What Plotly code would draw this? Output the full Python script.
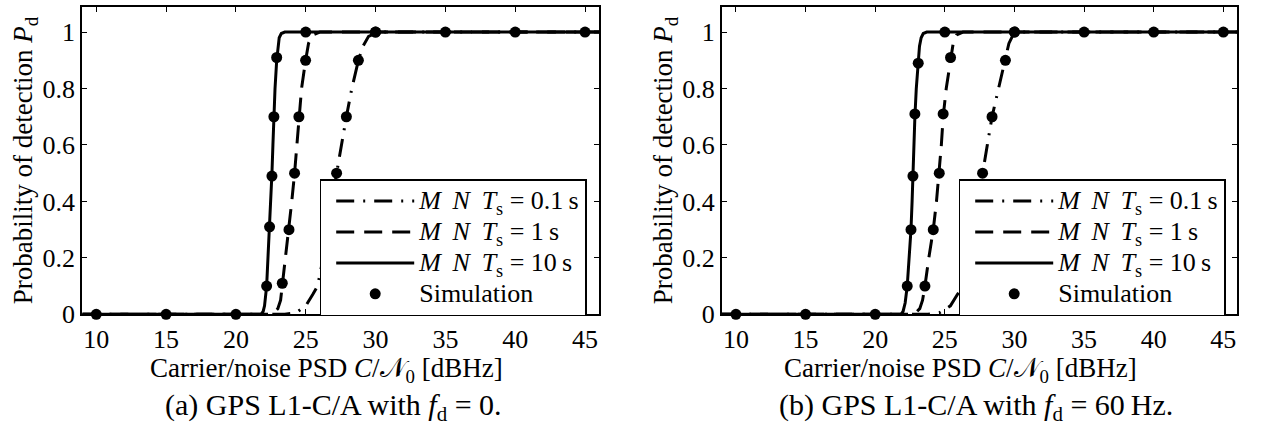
import plotly.graph_objects as go

# ---------------- data ----------------
# C/N0 axis ticks
x_ticks = [10, 15, 20, 25, 30, 35, 40, 45]
y_ticks = [0, 0.2, 0.4, 0.6, 0.8, 1]
y_ticktext = ["0", "0.2", "0.4", "0.6", "0.8", "1"]

# Panel (a): f_d = 0, theoretical curves
a_cn0_01 = [9, 23.5, 24.3, 25.0, 25.5, 25.85, 26.25, 26.55, 26.9, 27.21, 27.55, 27.91, 28.3, 28.77, 29.1, 29.5, 30.2, 46]
a_pd_01 = [0, 0, 0.005, 0.03, 0.07, 0.1, 0.2, 0.3, 0.4, 0.5, 0.6, 0.7, 0.8, 0.9, 0.95, 0.985, 1, 1]
a_cn0_1 = [9, 22.3, 22.7, 23.0, 23.2, 23.32, 23.55, 23.8, 24.0, 24.2, 24.35, 24.51, 24.7, 24.99, 25.2, 25.5, 26.0, 46]
a_pd_1 = [0, 0, 0.005, 0.02, 0.05, 0.1, 0.2, 0.3, 0.4, 0.5, 0.6, 0.7, 0.8, 0.9, 0.96, 0.99, 1, 1]
a_cn0_10 = [9, 21.8, 21.95, 22.05, 22.2, 22.3, 22.41, 22.5, 22.58, 22.65, 22.72, 22.8, 22.92, 23.0, 23.1, 23.25, 23.5, 46]
a_pd_10 = [0, 0, 0.01, 0.03, 0.1, 0.2, 0.3, 0.4, 0.5, 0.6, 0.7, 0.8, 0.9, 0.95, 0.98, 0.995, 1, 1]

# Panel (a): simulation points
a_sim_x_01 = [27.21, 27.91, 28.77, 30]
a_sim_p_01 = [0.5, 0.7, 0.9, 1]
a_sim_x_1 = [23.32, 23.8, 24.2, 24.51, 24.99]
a_sim_p_1 = [0.11, 0.3, 0.5, 0.7, 0.9]
a_sim_x_10 = [10, 15, 20, 22.2, 22.41, 22.58, 22.72, 22.92, 25, 30, 35, 40, 45]
a_sim_p_10 = [0, 0, 0, 0.1, 0.31, 0.49, 0.7, 0.91, 1, 1, 1, 1, 1]

# Panel (b): f_d = 60 Hz, theoretical curves
b_cn0_01 = [9, 23.8, 24.6, 25.4, 25.9, 26.3, 26.7, 27.05, 27.4, 27.71, 28.05, 28.39, 28.85, 29.35, 29.6, 29.9, 30.6, 46]
b_pd_01 = [0, 0, 0.005, 0.03, 0.07, 0.1, 0.2, 0.3, 0.4, 0.5, 0.6, 0.7, 0.8, 0.9, 0.96, 0.99, 1, 1]
b_cn0_1 = [9, 22.5, 22.9, 23.2, 23.4, 23.57, 23.85, 24.17, 24.4, 24.6, 24.75, 24.88, 25.1, 25.41, 25.6, 25.85, 26.3, 46]
b_pd_1 = [0, 0, 0.005, 0.02, 0.05, 0.1, 0.2, 0.3, 0.4, 0.5, 0.6, 0.7, 0.8, 0.9, 0.96, 0.99, 1, 1]
b_cn0_10 = [9, 21.85, 22.0, 22.15, 22.3, 22.45, 22.57, 22.65, 22.71, 22.78, 22.85, 22.95, 23.09, 23.18, 23.3, 23.45, 23.7, 46]
b_pd_10 = [0, 0, 0.01, 0.04, 0.1, 0.2, 0.3, 0.4, 0.5, 0.6, 0.7, 0.8, 0.9, 0.95, 0.98, 0.995, 1, 1]

# Panel (b): simulation points
b_sim_x_01 = [27.71, 28.39, 29.35, 30]
b_sim_p_01 = [0.5, 0.7, 0.9, 1]
b_sim_x_1 = [23.57, 24.17, 24.6, 24.88, 25.41]
b_sim_p_1 = [0.1, 0.3, 0.5, 0.71, 0.91]
b_sim_x_10 = [10, 15, 20, 22.3, 22.57, 22.71, 22.85, 23.09, 25, 30, 35, 40, 45]
b_sim_p_10 = [0, 0, 0, 0.1, 0.3, 0.49, 0.71, 0.89, 1, 1, 1, 1, 1]

MNT = "<i>M</i>\u2009 <i>N</i>\u2009 <i>T</i><sub>s</sub>"
labels = [
    MNT + " = 0.1\u2009s",
    MNT + " = 1\u2009s",
    MNT + " = 10\u2009s",
    "Simulation",
]
x_title = "Carrier/noise PSD <i>C</i>/𝒩<sub>0</sub> [dBHz]"
y_title = "Probability of detection <i>P</i><sub>d</sub>"
captions = [
    "(a) GPS L1-C/A with <i>f</i><sub>d</sub> = 0.",
    "(b) GPS L1-C/A with <i>f</i><sub>d</sub> = 60\u2009Hz.",
]

# ---------------- styling ----------------
FONT = "Liberation Serif"
TICK = 26
TITLE = 27
LEG = 26
CAP = 30
DASHES = ["18px,9px,2px,9px", "18px,10px", "solid"]
LW = 3
W, H = 1261, 425


def leg_text(s):
    return f'<span style="font-size:{LEG}px">{s}</span>'


fig = go.Figure()

panels = [
    ("x", "y", "legend",
     [(a_cn0_01, a_pd_01), (a_cn0_1, a_pd_1), (a_cn0_10, a_pd_10)],
     [(a_sim_x_01, a_sim_p_01), (a_sim_x_1, a_sim_p_1), (a_sim_x_10, a_sim_p_10)]),
    ("x2", "y2", "legend2",
     [(b_cn0_01, b_pd_01), (b_cn0_1, b_pd_1), (b_cn0_10, b_pd_10)],
     [(b_sim_x_01, b_sim_p_01), (b_sim_x_1, b_sim_p_1), (b_sim_x_10, b_sim_p_10)]),
]

for xa, ya, lg, curves, sims in panels:
    for (cx, cy), dash, lab in zip(curves, DASHES, labels[:3]):
        fig.add_trace(go.Scatter(
            x=cx, y=cy, mode="lines", name=leg_text(lab),
            line=dict(color="black", width=LW, dash=dash),
            xaxis=xa, yaxis=ya, legend=lg, cliponaxis=False,
        ))
    for i, (sx, sy) in enumerate(sims):
        fig.add_trace(go.Scatter(
            x=sx, y=sy, mode="markers", name=leg_text(labels[3]),
            marker=dict(color="black", size=11, symbol="circle"),
            xaxis=xa, yaxis=ya, legend=lg, legendgroup="sim" + xa,
            showlegend=(i == 0), cliponaxis=False,
        ))

# axis geometry (pixels -> paper fractions)
ytop, ybot = 6.7, 314.3
ydom = [(H - ybot) / H, (H - ytop) / H]
xdom1 = [82.3 / W, 599.0 / W]
xdom2 = [722.0 / W, 1237.3 / W]

common_x = dict(
    range=[9, 46], tickvals=x_ticks, ticks="inside", ticklen=5, tickwidth=1,
    tickcolor="black", showline=True, linecolor="black", linewidth=2,
    mirror="ticks", showgrid=False, zeroline=False,
    tickfont=dict(family=FONT, size=TICK, color="black"),
    automargin=False,
)
common_y = dict(
    range=[0, 1.09], tickvals=y_ticks, ticktext=y_ticktext, ticks="inside",
    ticklen=5, tickwidth=1, tickcolor="black", showline=True,
    linecolor="black", linewidth=2, mirror="ticks", showgrid=False,
    zeroline=False, tickfont=dict(family=FONT, size=TICK, color="black"),
    title=dict(text=y_title,
               font=dict(family=FONT, size=TITLE, color="black"), standoff=2),
    automargin=False,
)

legend_common = dict(
    bgcolor="white", bordercolor="black", borderwidth=1.5,
    font=dict(family=FONT, size=21.5, color="black"),
    itemwidth=78, indentation=10, tracegroupgap=0,
    entrywidth=180, entrywidthmode="pixels",
    xanchor="right", yanchor="bottom",
)


def text_note(text, xpx, ypx, size):
    return dict(text=text, x=xpx / W, y=(H - ypx) / H, xref="paper",
                yref="paper", xanchor="center", yanchor="middle",
                showarrow=False,
                font=dict(family=FONT, size=size, color="black"))


fig.update_layout(
    width=W, height=H,
    margin=dict(l=0, r=0, t=0, b=0),
    paper_bgcolor="white", plot_bgcolor="white",
    xaxis=dict(domain=xdom1, anchor="y", **common_x),
    yaxis=dict(domain=ydom, anchor="x", **common_y),
    xaxis2=dict(domain=xdom2, anchor="y2", **common_x),
    yaxis2=dict(domain=ydom, anchor="x2", **common_y),
    legend=dict(x=586.7 / W, y=(H - 316) / H, **legend_common),
    legend2=dict(x=1225.7 / W, y=(H - 316) / H, **legend_common),
    annotations=[
        text_note(x_title, 326, 370, TITLE),
        text_note(x_title, 960, 370, TITLE),
        text_note(captions[0], 333, 407, CAP),
        text_note(captions[1], 976, 407, CAP),
    ],
)

fig.write_html("out.html")
